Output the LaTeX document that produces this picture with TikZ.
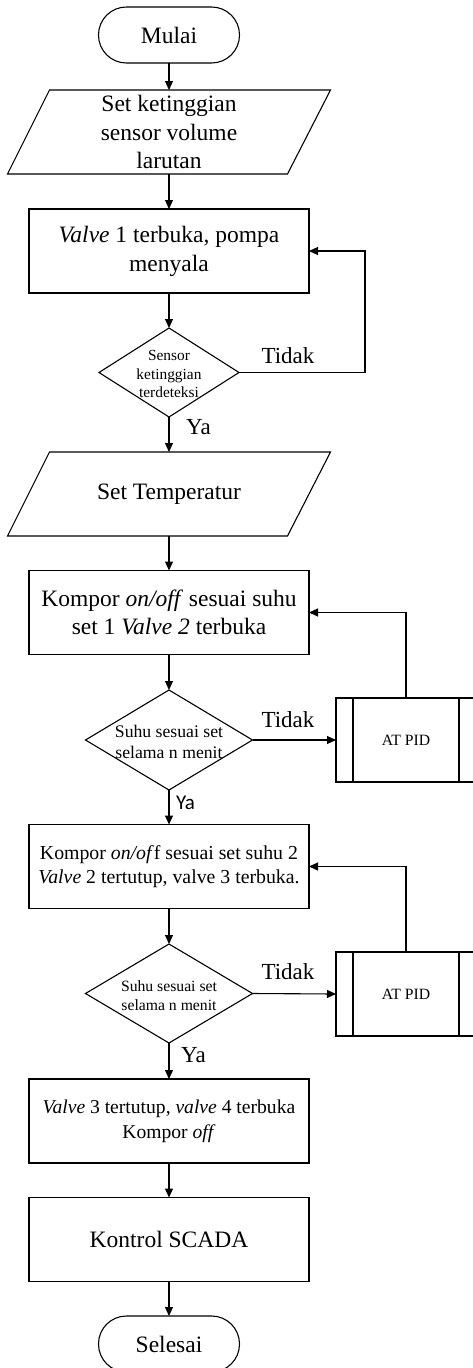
\documentclass[tikz,border=0pt]{standalone}
\usepackage{fontspec}
\setmainfont{Liberation Serif}
\newfontfamily\calib{Carlito}
\usetikzlibrary{arrows.meta,shapes.geometric}
\begin{document}
\begin{tikzpicture}[x=1pt,y=-1pt,
  line width=1.1pt,
  every node/.style={inner sep=0pt, outer sep=0pt},
  term/.style={draw, rectangle, rounded corners=27.9pt, minimum width=141pt, minimum height=56pt, font=\fontsize{23.5}{29}\selectfont},
  io/.style={minimum width=281pt, minimum height=84pt, align=center, font=\fontsize{23.5}{28.5}\selectfont},
  proc/.style={draw, rectangle, minimum width=280pt, minimum height=84pt, align=center},
  dia/.style={draw, diamond, inner sep=0pt},
  dtext/.style={align=center},
  sub/.style={draw, rectangle, minimum width=140pt, minimum height=84pt, font=\fontsize{15.7}{19}\selectfont},
  lbl/.style={font=\fontsize{23}{27}\selectfont},
  arr/.style={-{Triangle[length=9pt,width=8pt]}}
]
\useasboundingbox (0,0) rectangle (473,1368);

% nodes
\node[term] (start) at (169,35) {Mulai};
\node[io] (p1) at (169,132) {Set ketinggian\\sensor volume\\larutan};
\draw ([xshift=21pt]p1.north west) -- ([xshift=21pt]p1.north east) -- ([xshift=-22pt]p1.south east) -- ([xshift=-21pt]p1.south west) -- cycle;

\node[proc, font=\fontsize{23.5}{29}\selectfont] (b1) at (169,251) {\textit{Valve} 1 terbuka, pompa\\menyala};

\node[dia, minimum width=140pt, minimum height=89pt] (d1) at (169,372.5) {};
\node[dtext, font=\fontsize{15.4}{18.5}\selectfont] (t1) at (169,374) {Sensor\\ketinggian\\terdeteksi};

\node[io] (p2) at (169,494) {Set Temperatur};
\draw ([xshift=21pt]p2.north west) -- ([xshift=21pt]p2.north east) -- ([xshift=-22pt]p2.south east) -- ([xshift=-21pt]p2.south west) -- cycle;

\node[proc, font=\fontsize{23.5}{28}\selectfont] (b2) at (169,612.5) {Kompor \textit{on/off} sesuai suhu\\set 1 \textit{Valve 2} terbuka};

\node[dia, minimum width=167pt, minimum height=100pt] (d2) at (169,740) {};
\node[dtext, font=\fontsize{17.7}{21}\selectfont] (t2) at (169,742) {Suhu sesuai set\\selama n menit};

\node[sub] (a1) at (406,740) {AT PID};
\draw ([xshift=17pt]a1.north west) -- ([xshift=17pt]a1.south west);
\draw ([xshift=-17pt]a1.north east) -- ([xshift=-17pt]a1.south east);

\node[proc, font=\fontsize{19.8}{24}\selectfont] (b3) at (169,866.5) {Kompor \textit{on/of}f sesuai set suhu 2\\\textit{Valve} 2 tertutup, valve 3 terbuka.};

\node[dia, minimum width=167pt, minimum height=99pt] (d3) at (169,993.5) {};
\node[dtext, font=\fontsize{15.7}{19}\selectfont] (t3) at (169,996) {Suhu sesuai set\\selama n menit};

\node[sub] (a2) at (406,994) {AT PID};
\draw ([xshift=17pt]a2.north west) -- ([xshift=17pt]a2.south west);
\draw ([xshift=-17pt]a2.north east) -- ([xshift=-17pt]a2.south east);

\node[proc, font=\fontsize{19.6}{25}\selectfont] (b4) at (169,1121) {\textit{Valve} 3 tertutup, \textit{valve} 4 terbuka\\Kompor \textit{off}};

\node[proc, font=\fontsize{23.5}{29}\selectfont] (b5) at (169,1239.5) {Kontrol SCADA};

\node[term] (end) at (169,1344) {Selesai};

% labels
\node[lbl] (l1) at (288,356) {Tidak};
\node[lbl] (l2) at (198.5,427) {Ya};
\node[lbl] (l3) at (288,720) {Tidak};
\node[font=\calib\fontsize{21}{25}\selectfont] (l4) at (185.5,803) {Ya};
\node[lbl] (l5) at (288,972) {Tidak};
\node[lbl] (l6) at (193.5,1055) {Ya};

% connectors
\draw[arr] (start.south) -- (p1.north);
\draw[arr] (p1.south) -- (b1.north);
\draw[arr] (b1.south) -- (d1.north);
\coordinate (c1) at (365,372.5);
\draw[arr] (d1.east) -- (c1) |- (b1.east);
\draw[arr] (d1.south) -- (p2.north);
\draw[arr] (p2.south) -- (b2.north);
\draw[arr] (b2.south) -- (d2.north);
\draw[arr] (d2.east) -- (a1.west);
\draw[arr] (a1.north) |- (b2.east);
\draw[arr] (d2.south) -- (b3.north);
\draw[arr] (b3.south) -- (d3.north);
\draw[arr] (d3.east) -- (a2.west);
\draw[arr] (a2.north) |- (b3.east);
\draw[arr] (d3.south) -- (b4.north);
\draw[arr] (b4.south) -- (b5.north);
\draw[arr] (b5.south) -- (end.north);
\end{tikzpicture}
\end{document}
